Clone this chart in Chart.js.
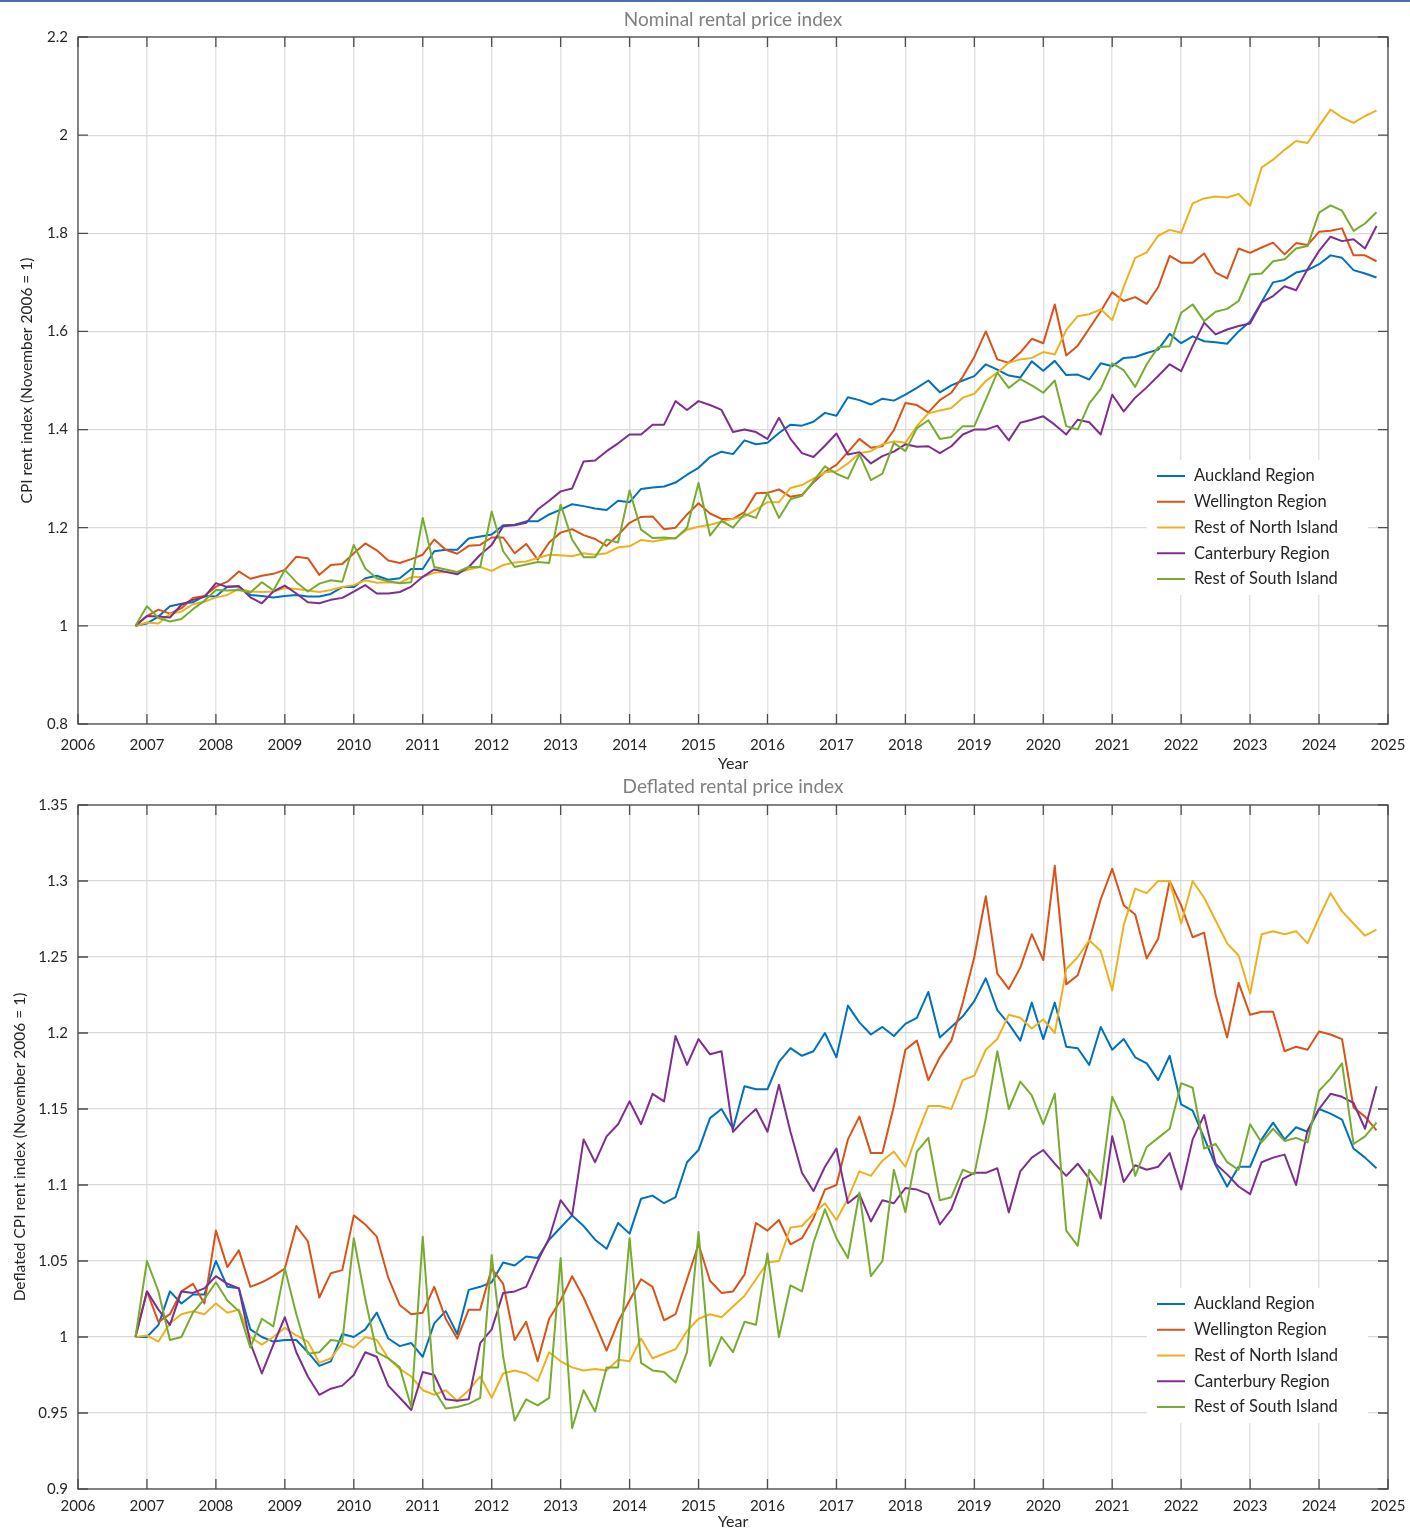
<!DOCTYPE html>
<html>
<head>
<meta charset="utf-8">
<title>Rental price index by region</title>
<script src="https://cdn.jsdelivr.net/npm/chart.js@4.4.1/dist/chart.umd.min.js"></script>
<style>
  html, body { margin: 0; padding: 0; background: #fff; }
  #wrap { position: relative; width: 1410px; height: 1530px; overflow: hidden; }
  #topRule { position: absolute; left: 0; top: 0; width: 1410px; height: 2px; background: #4b6fa3; z-index: 2; }
  canvas { position: absolute; left: 0; }
  #nominalChart  { top: 0; }
  #deflatedChart { top: 775px; }
</style>
</head>
<body>
<div id="wrap">
  <div id="topRule"></div>
  <canvas id="nominalChart" width="1410" height="775"></canvas>
  <canvas id="deflatedChart" width="1410" height="755"></canvas>
</div>
<script>
// ── DATA ─────────────────────────────────────────────────────────────────────
// one sample every two months, Nov 2006 .. Nov 2024 (109 samples)
const firstSample = 2006 + 10 / 12;
const sampleStep  = 2 / 12;

const regions = ['Auckland Region', 'Wellington Region', 'Rest of North Island', 'Canterbury Region', 'Rest of South Island'];

const yearTicks     = [2006, 2007, 2008, 2009, 2010, 2011, 2012, 2013, 2014, 2015, 2016, 2017, 2018, 2019, 2020, 2021, 2022, 2023, 2024, 2025];
const nominalTicks  = [0.8, 1, 1.2, 1.4, 1.6, 1.8, 2, 2.2];
const deflatedTicks = [0.9, 0.95, 1, 1.05, 1.1, 1.15, 1.2, 1.25, 1.3, 1.35];

// nominal CPI rent index (Nov 2006 = 1)
const nomAuckland = [
  1.000, 1.005, 1.019, 1.040, 1.045, 1.048, 1.061, 1.060, 1.080, 1.080, 1.063, 1.061, 1.058, 1.061, 1.063, 1.060, 1.060, 1.065, 1.079, 1.079, 1.097, 1.102, 1.094, 1.097, 1.116,
  1.116, 1.152, 1.155, 1.155, 1.178, 1.182, 1.186, 1.205, 1.206, 1.213, 1.213, 1.227, 1.237, 1.248, 1.244, 1.239, 1.236, 1.255, 1.252, 1.279, 1.282, 1.284, 1.292, 1.308, 1.322, 1.344, 1.355, 1.350, 1.378, 1.370,
  1.373, 1.393, 1.410, 1.408, 1.416, 1.434, 1.428, 1.466, 1.460, 1.451, 1.463, 1.459, 1.471, 1.485, 1.500, 1.476, 1.490, 1.500, 1.509, 1.533, 1.522, 1.510, 1.506, 1.539, 1.520, 1.540, 1.511, 1.512,
  1.502, 1.535, 1.529, 1.546, 1.548, 1.556, 1.563, 1.595, 1.576, 1.590, 1.580, 1.578, 1.575, 1.600, 1.620, 1.660, 1.700, 1.705, 1.720, 1.725, 1.737, 1.755, 1.750, 1.725, 1.718, 1.710
];
const nomWellington = [
  1.000, 1.020, 1.033, 1.025, 1.036, 1.057, 1.061, 1.080, 1.090, 1.111, 1.096, 1.102, 1.106, 1.114, 1.141, 1.138, 1.104, 1.124, 1.126, 1.148, 1.168, 1.154, 1.133, 1.128, 1.136,
  1.145, 1.176, 1.155, 1.147, 1.163, 1.165, 1.180, 1.180, 1.148, 1.167, 1.135, 1.170, 1.190, 1.197, 1.185, 1.177, 1.163, 1.185, 1.210, 1.222, 1.223, 1.197, 1.200, 1.227, 1.250, 1.229, 1.218, 1.218, 1.232, 1.270,
  1.271, 1.278, 1.263, 1.267, 1.292, 1.314, 1.328, 1.354, 1.381, 1.363, 1.366, 1.399, 1.454, 1.450, 1.435, 1.460, 1.475, 1.508, 1.548, 1.600, 1.543, 1.536, 1.557, 1.585, 1.576, 1.655, 1.551, 1.571,
  1.606, 1.641, 1.680, 1.662, 1.670, 1.656, 1.690, 1.754, 1.740, 1.740, 1.759, 1.720, 1.708, 1.769, 1.760, 1.771, 1.781, 1.757, 1.780, 1.776, 1.803, 1.805, 1.810, 1.755, 1.755, 1.743
];
const nomRestNI = [
  1.000, 1.007, 1.005, 1.024, 1.029, 1.044, 1.049, 1.058, 1.063, 1.076, 1.070, 1.069, 1.070, 1.077, 1.075, 1.072, 1.069, 1.073, 1.079, 1.083, 1.093, 1.088, 1.089, 1.088, 1.099,
  1.100, 1.108, 1.110, 1.108, 1.115, 1.120, 1.112, 1.124, 1.129, 1.131, 1.138, 1.145, 1.144, 1.142, 1.148, 1.145, 1.148, 1.160, 1.162, 1.175, 1.172, 1.176, 1.179, 1.196, 1.202, 1.206, 1.212, 1.218, 1.223, 1.237,
  1.252, 1.252, 1.281, 1.287, 1.300, 1.313, 1.315, 1.331, 1.352, 1.356, 1.370, 1.376, 1.373, 1.407, 1.433, 1.439, 1.444, 1.465, 1.473, 1.499, 1.516, 1.536, 1.543, 1.546, 1.558, 1.553, 1.603, 1.631,
  1.635, 1.645, 1.623, 1.691, 1.750, 1.761, 1.795, 1.807, 1.801, 1.861, 1.871, 1.875, 1.873, 1.880, 1.856, 1.934, 1.950, 1.970, 1.988, 1.984, 2.019, 2.052, 2.036, 2.025, 2.039, 2.050
];
const nomCanterbury = [
  1.000, 1.020, 1.019, 1.017, 1.043, 1.053, 1.059, 1.087, 1.079, 1.081, 1.058, 1.046, 1.070, 1.082, 1.066, 1.048, 1.046, 1.053, 1.057, 1.070, 1.083, 1.066, 1.066, 1.069, 1.080,
  1.100, 1.115, 1.110, 1.105, 1.120, 1.145, 1.165, 1.203, 1.205, 1.210, 1.237, 1.255, 1.274, 1.280, 1.335, 1.337, 1.356, 1.372, 1.390, 1.390, 1.410, 1.410, 1.458, 1.440, 1.458, 1.450, 1.440, 1.395, 1.400, 1.395,
  1.381, 1.424, 1.381, 1.352, 1.344, 1.367, 1.392, 1.349, 1.354, 1.331, 1.346, 1.355, 1.370, 1.365, 1.366, 1.352, 1.366, 1.390, 1.400, 1.400, 1.408, 1.378, 1.414, 1.420, 1.427, 1.410, 1.390, 1.420,
  1.415, 1.390, 1.471, 1.437, 1.465, 1.486, 1.509, 1.533, 1.519, 1.570, 1.618, 1.594, 1.604, 1.611, 1.616, 1.659, 1.672, 1.692, 1.684, 1.727, 1.764, 1.793, 1.784, 1.788, 1.769, 1.815
];
const nomRestSI = [
  1.000, 1.040, 1.016, 1.009, 1.014, 1.034, 1.051, 1.073, 1.072, 1.073, 1.068, 1.089, 1.072, 1.114, 1.089, 1.070, 1.086, 1.093, 1.090, 1.165, 1.117, 1.097, 1.091, 1.087, 1.089,
  1.220, 1.120, 1.115, 1.110, 1.120, 1.120, 1.233, 1.152, 1.120, 1.125, 1.130, 1.128, 1.247, 1.176, 1.140, 1.140, 1.176, 1.170, 1.276, 1.196, 1.179, 1.180, 1.178, 1.200, 1.291, 1.184, 1.214, 1.200, 1.228, 1.220,
  1.271, 1.220, 1.258, 1.265, 1.295, 1.325, 1.310, 1.300, 1.350, 1.297, 1.310, 1.373, 1.356, 1.403, 1.419, 1.381, 1.385, 1.407, 1.407, 1.461, 1.516, 1.485, 1.503, 1.490, 1.475, 1.500, 1.407, 1.400,
  1.453, 1.483, 1.535, 1.521, 1.487, 1.533, 1.568, 1.570, 1.638, 1.655, 1.621, 1.640, 1.646, 1.662, 1.716, 1.718, 1.743, 1.747, 1.769, 1.774, 1.842, 1.857, 1.846, 1.805, 1.820, 1.843
];

// deflated CPI rent index (Nov 2006 = 1)
const defAuckland = [
  1.000, 1.000, 1.008, 1.030, 1.022, 1.028, 1.028, 1.050, 1.033, 1.032, 1.005, 1.000, 0.997, 0.998, 0.998, 0.990, 0.981, 0.984, 1.002, 1.000, 1.005, 1.016, 0.999, 0.994, 0.996,
  0.987, 1.009, 1.017, 1.002, 1.031, 1.033, 1.036, 1.049, 1.047, 1.053, 1.052, 1.064, 1.072, 1.080, 1.073, 1.064, 1.058, 1.075, 1.068, 1.091, 1.093, 1.088, 1.092, 1.115, 1.123, 1.144, 1.150, 1.137, 1.165, 1.163,
  1.163, 1.181, 1.190, 1.185, 1.188, 1.200, 1.184, 1.218, 1.207, 1.199, 1.204, 1.198, 1.206, 1.210, 1.227, 1.197, 1.204, 1.211, 1.221, 1.236, 1.215, 1.206, 1.195, 1.220, 1.196, 1.220, 1.191, 1.190,
  1.179, 1.204, 1.189, 1.196, 1.184, 1.180, 1.169, 1.185, 1.153, 1.149, 1.131, 1.113, 1.099, 1.112, 1.112, 1.130, 1.141, 1.130, 1.138, 1.135, 1.150, 1.147, 1.143, 1.124, 1.118, 1.111
];
const defWellington = [
  1.000, 1.030, 1.010, 1.015, 1.030, 1.035, 1.022, 1.070, 1.046, 1.057, 1.033, 1.036, 1.040, 1.045, 1.073, 1.063, 1.026, 1.042, 1.044, 1.080, 1.074, 1.066, 1.039, 1.021, 1.015,
  1.016, 1.033, 1.012, 0.999, 1.018, 1.018, 1.045, 1.035, 0.998, 1.010, 0.984, 1.012, 1.024, 1.040, 1.026, 1.009, 0.991, 1.010, 1.024, 1.038, 1.033, 1.011, 1.015, 1.038, 1.061, 1.037, 1.029, 1.030, 1.041, 1.075,
  1.070, 1.077, 1.061, 1.065, 1.078, 1.097, 1.100, 1.130, 1.145, 1.121, 1.121, 1.152, 1.189, 1.195, 1.169, 1.184, 1.195, 1.220, 1.250, 1.290, 1.239, 1.229, 1.243, 1.265, 1.248, 1.310, 1.232, 1.238,
  1.261, 1.288, 1.308, 1.284, 1.278, 1.249, 1.262, 1.300, 1.284, 1.263, 1.266, 1.225, 1.197, 1.233, 1.212, 1.214, 1.214, 1.188, 1.191, 1.189, 1.201, 1.199, 1.196, 1.151, 1.145, 1.136
];
const defRestNI = [
  1.000, 1.001, 0.997, 1.009, 1.015, 1.017, 1.015, 1.022, 1.016, 1.018, 1.000, 0.995, 1.000, 1.006, 1.001, 0.997, 0.983, 0.986, 0.996, 0.993, 1.000, 0.998, 0.986, 0.979, 0.974,
  0.965, 0.962, 0.965, 0.958, 0.965, 0.974, 0.960, 0.976, 0.978, 0.976, 0.971, 0.990, 0.984, 0.980, 0.978, 0.979, 0.978, 0.985, 0.984, 0.999, 0.986, 0.989, 0.992, 1.004, 1.012, 1.015, 1.013, 1.020, 1.027, 1.038,
  1.049, 1.050, 1.072, 1.073, 1.081, 1.088, 1.077, 1.091, 1.109, 1.106, 1.116, 1.122, 1.112, 1.133, 1.152, 1.152, 1.150, 1.169, 1.172, 1.189, 1.196, 1.212, 1.210, 1.203, 1.209, 1.200, 1.242, 1.250,
  1.261, 1.254, 1.228, 1.271, 1.295, 1.292, 1.300, 1.300, 1.272, 1.300, 1.289, 1.274, 1.259, 1.251, 1.226, 1.265, 1.267, 1.265, 1.267, 1.259, 1.276, 1.292, 1.280, 1.272, 1.264, 1.268
];
const defCanterbury = [
  1.000, 1.030, 1.018, 1.008, 1.030, 1.029, 1.032, 1.040, 1.035, 1.032, 0.996, 0.976, 0.995, 1.013, 0.990, 0.974, 0.962, 0.966, 0.968, 0.975, 0.990, 0.987, 0.968, 0.960, 0.952,
  0.977, 0.975, 0.959, 0.958, 0.959, 0.996, 1.005, 1.029, 1.030, 1.033, 1.050, 1.065, 1.090, 1.080, 1.130, 1.115, 1.132, 1.140, 1.155, 1.140, 1.160, 1.155, 1.198, 1.179, 1.196, 1.186, 1.188, 1.135, 1.143, 1.150,
  1.135, 1.166, 1.135, 1.108, 1.096, 1.112, 1.124, 1.088, 1.094, 1.076, 1.090, 1.088, 1.098, 1.097, 1.094, 1.074, 1.084, 1.104, 1.108, 1.108, 1.111, 1.082, 1.109, 1.118, 1.123, 1.114, 1.106, 1.114,
  1.104, 1.078, 1.132, 1.102, 1.113, 1.110, 1.112, 1.121, 1.097, 1.130, 1.146, 1.114, 1.107, 1.099, 1.094, 1.115, 1.118, 1.120, 1.100, 1.136, 1.150, 1.160, 1.158, 1.154, 1.137, 1.165
];
const defRestSI = [
  1.000, 1.050, 1.030, 0.998, 1.000, 1.016, 1.025, 1.036, 1.024, 1.017, 0.993, 1.012, 1.007, 1.045, 1.015, 0.989, 0.990, 0.998, 0.997, 1.065, 1.025, 0.990, 0.986, 0.980, 0.954,
  1.066, 0.965, 0.953, 0.954, 0.956, 0.960, 1.054, 0.987, 0.945, 0.959, 0.955, 0.960, 1.052, 0.940, 0.965, 0.951, 0.980, 0.980, 1.065, 0.983, 0.978, 0.977, 0.970, 0.990, 1.069, 0.981, 1.000, 0.990, 1.010, 1.008,
  1.055, 1.000, 1.034, 1.030, 1.062, 1.084, 1.065, 1.052, 1.095, 1.040, 1.050, 1.110, 1.082, 1.122, 1.131, 1.090, 1.092, 1.110, 1.107, 1.144, 1.188, 1.150, 1.168, 1.159, 1.140, 1.160, 1.070, 1.060,
  1.110, 1.100, 1.158, 1.142, 1.106, 1.125, 1.131, 1.137, 1.167, 1.164, 1.124, 1.127, 1.115, 1.110, 1.140, 1.128, 1.137, 1.129, 1.131, 1.128, 1.162, 1.170, 1.180, 1.127, 1.132, 1.141
];

// ── STYLE ────────────────────────────────────────────────────────────────────
const LINE_COLORS = ['#0072BD', '#D95319', '#EDB120', '#7E2F8E', '#77AC30'];
const FONT = "Lato, 'Noto Sans', sans-serif";

Chart.defaults.font.family = FONT;
Chart.defaults.color = '#262626';

// white legend box drawn inside the plot, MATLAB style
const insetLegend = {
  id: 'insetLegend',
  afterDatasetsDraw(chart, args, opts) {
    const { ctx, chartArea: a } = chart;
    const left = a.right - opts.right - opts.width;
    const top  = a.top + opts.top;
    ctx.save();
    ctx.fillStyle = '#ffffff';
    ctx.fillRect(left, top, opts.width, opts.height);
    ctx.font = opts.fontSize + 'px ' + FONT;
    ctx.textBaseline = 'middle';
    ctx.textAlign = 'left';
    chart.data.datasets.forEach((ds, i) => {
      const y = top + opts.firstRow + i * opts.rowGap;
      ctx.strokeStyle = ds.borderColor;
      ctx.lineWidth = 2;
      ctx.beginPath();
      ctx.moveTo(left + 10, y);
      ctx.lineTo(left + 38, y);
      ctx.stroke();
      ctx.fillStyle = '#262626';
      ctx.fillText(ds.label, left + 47, y);
    });
    ctx.restore();
  }
};

// plot box with inward tick marks on all four sides
const boxTicks = {
  id: 'boxTicks',
  afterDraw(chart) {
    const { ctx, chartArea: a, scales: { x, y } } = chart;
    const len = 10;
    ctx.save();
    ctx.strokeStyle = '#4d4d4d';
    ctx.lineWidth = 1.3;
    ctx.strokeRect(a.left, a.top, a.right - a.left, a.bottom - a.top);
    ctx.beginPath();
    x.ticks.forEach(t => {
      const px = x.getPixelForValue(t.value);
      ctx.moveTo(px, a.bottom); ctx.lineTo(px, a.bottom - len);
      ctx.moveTo(px, a.top);    ctx.lineTo(px, a.top + len);
    });
    y.ticks.forEach(t => {
      const py = y.getPixelForValue(t.value);
      ctx.moveTo(a.left, py);  ctx.lineTo(a.left + len, py);
      ctx.moveTo(a.right, py); ctx.lineTo(a.right - len, py);
    });
    ctx.stroke();
    ctx.restore();
  }
};

function toPoints(values) {
  return values.map((v, i) => ({ x: firstSample + i * sampleStep, y: v }));
}

function buildChart(canvasId, cfg) {
  const ctx = document.getElementById(canvasId);
  return new Chart(ctx, {
    type: 'line',
    data: {
      datasets: cfg.series.map((values, i) => ({
        label: regions[i],
        data: toPoints(values),
        borderColor: LINE_COLORS[i],
        backgroundColor: LINE_COLORS[i],
        borderWidth: 2,
        pointRadius: 0,
        tension: 0,
        fill: false,
        borderJoinStyle: 'round',
        order: cfg.series.length - i,
      })),
    },
    plugins: [insetLegend, boxTicks],
    options: {
      responsive: false,
      animation: false,
      events: [],
      layout: { padding: { left: 0, right: 22, top: 0, bottom: 0 } },
      scales: {
        x: {
          type: 'linear',
          min: 2006,
          max: 2025,
          afterBuildTicks: s => { s.ticks = yearTicks.map(v => ({ value: v })); },
          // fixed axis height; end labels fit inside the layout padding
          afterFit: s => { s.height = cfg.xAxisHeight; s.paddingLeft = 0; s.paddingRight = 0; },
          grid: { color: '#e3e3e3', lineWidth: 1.5, drawTicks: false },
          border: { display: false },
          ticks: {
            autoSkip: false, maxRotation: 0, padding: cfg.xTickPad,
            font: { size: 15 }, color: '#262626',
            callback: v => String(v),
          },
          title: {
            display: true, text: 'Year', color: '#262626',
            font: { size: 16, lineHeight: 1 },
            padding: { top: 0, bottom: cfg.xTitlePad },
          },
        },
        y: {
          min: cfg.yTicks[0],
          max: cfg.yTicks[cfg.yTicks.length - 1],
          afterBuildTicks: s => { s.ticks = cfg.yTicks.map(v => ({ value: v })); },
          afterFit: s => { s.width = 78; },
          grid: { color: '#d9d9d9', lineWidth: 1.2, drawTicks: false },
          border: { display: false },
          ticks: { padding: 10, font: { size: 15 }, color: '#262626', callback: v => String(v) },
          title: {
            display: true, text: cfg.yTitle, color: '#262626',
            font: { size: 15.5, lineHeight: 1 },
            padding: { top: cfg.yTitlePad, bottom: 0 },
          },
        },
      },
      plugins: {
        legend: { display: false },
        tooltip: { enabled: false },
        title: {
          display: true,
          fullSize: false,
          text: cfg.title,
          color: '#7f7f7f',
          font: { size: 19, weight: 'normal', lineHeight: 1.2 },
          padding: cfg.titlePad,
        },
        insetLegend: {
          top: cfg.legendTop, right: 20, width: 221, height: 135,
          firstRow: 16, rowGap: 25.75, fontSize: 16.5,
        },
      },
    },
  });
}

// ── INIT ─────────────────────────────────────────────────────────────────────
buildChart('nominalChart', {
  title: 'Nominal rental price index',
  yTitle: 'CPI rent index (November 2006 = 1)',
  series: [nomAuckland, nomWellington, nomRestNI, nomCanterbury, nomRestSI],
  yTicks: nominalTicks,
  titlePad: { top: 8.6, bottom: 5.6 },
  xAxisHeight: 51, xTickPad: 12, xTitlePad: 3,
  yTitlePad: 19.25,
  legendTop: 423,
});

buildChart('deflatedChart', {
  title: 'Deflated rental price index',
  yTitle: 'Deflated CPI rent index (November 2006 = 1)',
  series: [defAuckland, defWellington, defRestNI, defCanterbury, defRestSI],
  yTicks: deflatedTicks,
  titlePad: { top: 0.6, bottom: 6.6 },
  xAxisHeight: 41, xTickPad: 8, xTitlePad: 0,
  yTitlePad: 12.25,
  legendTop: 483,
});
</script>
</body>
</html>
